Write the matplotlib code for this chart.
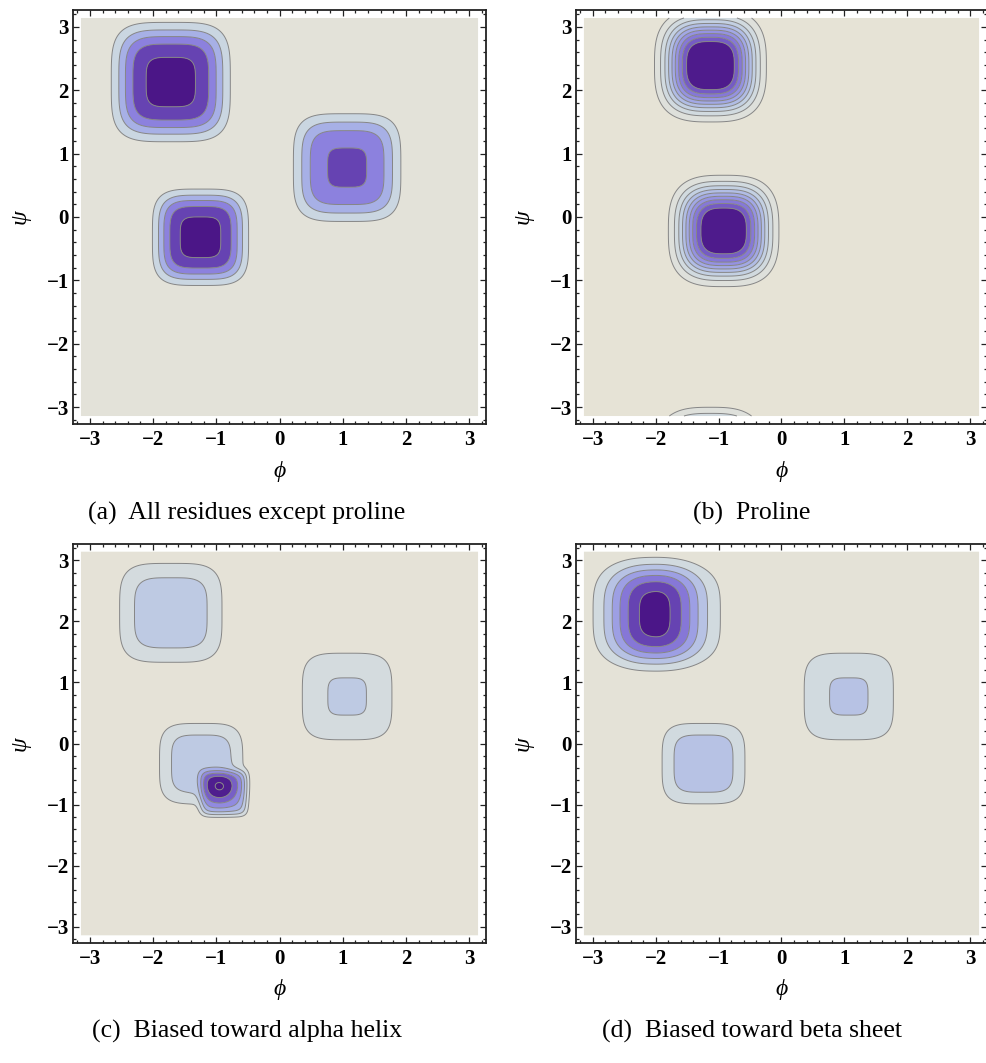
import numpy as np
import matplotlib
matplotlib.use("Agg")
import matplotlib.pyplot as plt
from matplotlib.colors import LinearSegmentedColormap
from matplotlib.ticker import FixedLocator

# ---------------- data: well parameters per panel ----------------
# (a) All residues except proline
a_cx = [-1.72, 1.07, -1.25]
a_cy = [2.13, 0.78, -0.32]
a_wx = [0.83, 0.78, 0.67]
a_wy = [0.83, 0.78, 0.67]
a_px = [4.0, 4.0, 4.0]
a_py = [4.0, 4.0, 4.0]
a_depth = [5.25, 4.10, 5.27]
a_nlev = 5

# (b) Proline
b_cx = [-1.13, -0.92]
b_cy = [2.39, -0.22]
b_wx = [0.666, 0.66]
b_wy = [0.666, 0.66]
b_px = [3.0, 3.0]
b_py = [3.0, 3.0]
b_depth = [10.83, 10.6]
b_nlev = 9

# (c) Biased toward alpha helix
c_cx = [-1.72, 1.07, -1.24, -0.88, -0.93]
c_cy = [2.14, 0.77, -0.33, -0.82, -0.74]
c_wx = [0.825, 0.77, 0.67, 0.37, 0.26]
c_wy = [0.825, 0.77, 0.67, 0.37, 0.26]
c_px = [4.0, 4.0, 4.0, 6.0, 2.0]
c_py = [4.0, 4.0, 4.0, 6.0, 2.0]
c_depth = [2.53, 2.05, 2.54, 3.2, 1.75]
c_nlev = 7

# (d) Biased toward beta sheet
d_cx = [-2.06, -1.60, 1.07, -1.24]
d_cy = [2.12, 2.10, 0.77, -0.33]
d_wx = [0.75, 0.80, 0.77, 0.67]
d_wy = [0.78, 0.80, 0.77, 0.67]
d_px = [2.5, 4.0, 4.0, 4.0]
d_py = [3.5, 4.0, 4.0, 4.0]
d_depth = [5.7, 0.8, 2.05, 2.54]
d_nlev = 6

captions = ["(a)  All residues except proline", "(b)  Proline",
            "(c)  Biased toward alpha helix", "(d)  Biased toward beta sheet"]
tick_vals = [-3, -2, -1, 0, 1, 2, 3]
tick_labels = ["\u22123", "\u22122", "\u22121", "0", "1", "2", "3"]

# colour scheme (background -> dark purple at the deepest point)
cmap_t = [0.0, 0.10, 0.29, 0.46, 0.66, 0.85, 0.92, 1.0]
cmap_c = ["#E8E3D3", "#E3E2D9", "#C9D6E1", "#A9B4E7", "#8D83DF", "#6846B5",
          "#4D1A8B", "#4A1486"]
cmap = LinearSegmentedColormap.from_list("mma", list(zip(cmap_t, cmap_c)))

W, H = 987, 1063
fig = plt.figure(figsize=(W / 100, H / 100), dpi=100)

phi = np.linspace(-np.pi, np.pi, 601)
PHI, PSI = np.meshgrid(phi, phi)


def field(cx, cy, wx, wy, px, py, depth):
    F = np.zeros_like(PHI)
    for x0, y0, sx, sy, ex, ey, d in zip(cx, cy, wx, wy, px, py, depth):
        dx = (PHI - x0 + np.pi) % (2 * np.pi) - np.pi
        dy = (PSI - y0 + np.pi) % (2 * np.pi) - np.pi
        F += d * np.exp(-(np.abs(dx) / sx) ** ex - (np.abs(dy) / sy) ** ey)
    return F


panels = [
    (a_cx, a_cy, a_wx, a_wy, a_px, a_py, a_depth, a_nlev),
    (b_cx, b_cy, b_wx, b_wy, b_px, b_py, b_depth, b_nlev),
    (c_cx, c_cy, c_wx, c_wy, c_px, c_py, c_depth, c_nlev),
    (d_cx, d_cy, d_wx, d_wy, d_px, d_py, d_depth, d_nlev),
]

# axes boxes in pixels: left, top, width, height
boxes = [(73, 10, 413, 414), (576, 10, 411, 414),
         (73, 544, 413, 399), (576, 544, 411, 399)]
cap_x = [247, 752, 247, 752]
cap_y = [520, 520, 1038, 1038]

serif = ["Liberation Serif", "DejaVu Serif"]
lim = np.pi + 0.126

for i, (p, box) in enumerate(zip(panels, boxes)):
    l, t, w, h = box
    ax = fig.add_axes([l / W, 1 - (t + h) / H, w / W, h / H])
    F = field(*p[:7])
    n = p[7]
    fmax = F.max()
    levels = np.array([0.0] + list(range(1, n + 1)) + [fmax + 1e-6], dtype=float)
    mids = 0.5 * (levels[:-1] + levels[1:])
    cols = [cmap(m / fmax) for m in mids]
    ax.contourf(PHI, PSI, F, levels=levels, colors=cols, antialiased=True)
    ax.contour(PHI, PSI, F, levels=levels[1:-1], colors="#858585", linewidths=0.7)
    ax.set_xlim(-lim, lim)
    ax.set_ylim(-lim, lim)
    ax.set_facecolor("white")
    for s in ax.spines.values():
        s.set_linewidth(1.3)
        s.set_color("#222222")
    ax.xaxis.set_major_locator(FixedLocator(tick_vals))
    ax.yaxis.set_major_locator(FixedLocator(tick_vals))
    minor = [v / 5 for v in range(-16, 17) if v % 5 != 0]
    ax.xaxis.set_minor_locator(FixedLocator(minor))
    ax.yaxis.set_minor_locator(FixedLocator(minor))
    ax.set_xticklabels(tick_labels)
    ax.set_yticklabels(tick_labels)
    ax.tick_params(which="both", direction="in", top=True, right=True,
                   width=0.9, color="#222222")
    ax.tick_params(which="major", length=4.5)
    ax.tick_params(which="minor", length=2.4)
    ax.tick_params(axis="x", pad=4)
    ax.tick_params(axis="y", pad=3)
    for lab in ax.get_xticklabels() + ax.get_yticklabels():
        lab.set_fontfamily(serif)
        lab.set_fontweight("bold")
        lab.set_fontsize(15)
    # axis labels
    fig.text((l + w / 2) / W, 1 - (t + h + 47) / H, "\u03d5", family=serif,
             style="italic", fontsize=17, ha="center", va="center")
    fig.text((l - 53) / W, 1 - (t + h / 2) / H, "\u03c8", family=serif,
             style="italic", fontsize=17, ha="center", va="center", rotation=90)
    fig.text(cap_x[i] / W, 1 - cap_y[i] / H, captions[i], family=serif,
             fontsize=18.5, ha="center", va="baseline")

fig.savefig("out.png", dpi=100)
